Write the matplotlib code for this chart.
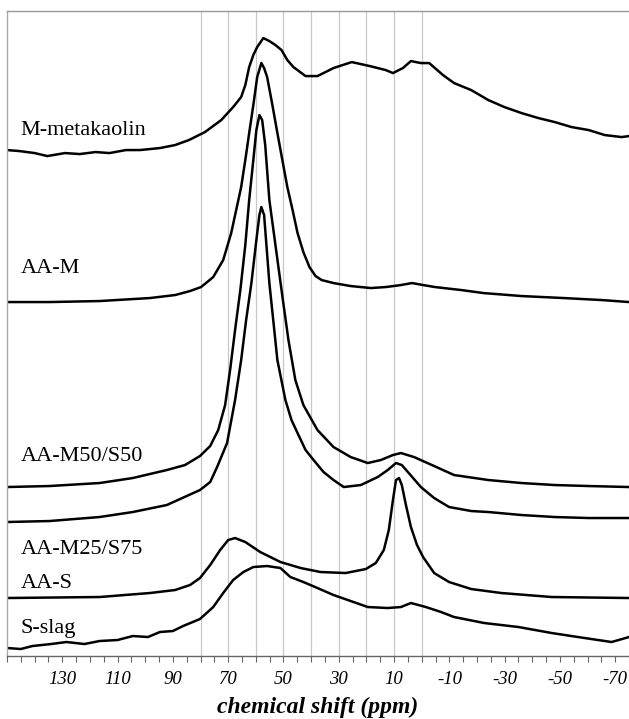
import numpy as np
import matplotlib.pyplot as plt

plt.rcParams['axes.unicode_minus'] = False

# 27Al MAS NMR spectra, stacked (intensity in arbitrary units incl. offset)
metakaolin_ppm = [150, 145.5, 140.0, 135.4, 129.0, 123.7, 118.0, 112.9, 107.0, 101.9, 94.7, 89.2,
                  84.2, 78.4, 72.5, 68.2, 65.3, 63.8, 62.4, 60.9, 59.5, 57.3, 55.1, 52.9, 50.7,
                  48.6, 46.4, 42.0, 37.7, 31.9, 25.3, 18.8, 13.0, 10.4, 6.8, 3.9, 0.3, -2.7,
                  -7.7, -11.7, -17.9, -24.1, -29.9, -36.1, -42.2, -48.1, -54.2, -60.4, -66.2,
                  -72.3, -75]
metakaolin_int = [506, 505, 503, 500, 503, 502, 504, 503, 506, 506, 508, 511,
                  516, 524, 536, 549, 559, 571, 589, 601, 609, 618, 615, 611, 606,
                  596, 589, 580, 580, 588, 594, 590, 586, 583, 588, 595, 593, 593,
                  581, 573, 566, 556, 549, 543, 538, 534, 529, 526, 521,
                  519, 520]

aam_ppm = [150, 134.6, 116.5, 98.3, 89.2, 83.8, 79.8, 75.4, 71.8, 68.9, 67.1, 65.3, 63.8,
           62.4, 60.9, 59.5, 58.0, 57.0, 55.9, 54.0, 52.2, 50.4, 48.6, 46.7, 44.9, 42.8,
           40.6, 38.4, 36.2, 31.9, 25.7, 18.4, 13.0, 7.5, 3.5, -0.5, -4.8, -14.3, -22.3,
           -36.1, -51.3, -65.1, -75]
aam_int = [354, 354, 355, 358, 361, 365, 369, 379, 396, 423, 446, 469, 496,
           523, 551, 579, 593, 588, 579, 551, 523, 496, 469, 446, 423, 404,
           389, 380, 376, 373, 370, 368, 369, 371, 373, 371, 369, 366, 363,
           360, 358, 356, 354]

m50_ppm = [150, 134.6, 116.5, 104.5, 92.2, 85.6, 80.2, 76.5, 73.6, 71.1, 69.3, 67.5, 65.6,
           63.8, 62.4, 60.9, 59.8, 58.7, 57.7, 56.6, 55.1, 52.9, 50.7, 48.2, 45.7, 42.8,
           37.7, 31.9, 25.7, 19.5, 14.8, 10.4, 7.5, 2.8, -4.5, -11.7, -24.1, -36.1, -48.1,
           -60.4, -75]
m50_int = [169, 170, 173, 178, 186, 191, 200, 210, 226, 251, 286, 326, 366,
           411, 456, 496, 526, 541, 536, 511, 456, 411, 366, 316, 276, 251,
           226, 209, 199, 193, 196, 201, 203, 199, 190, 181, 176, 173, 171,
           170, 169]

m25_ppm = [150, 134.6, 116.5, 104.5, 92.2, 80.2, 76.5, 74.0, 72.2, 70.4, 67.5, 65.3, 63.5,
           61.6, 59.8, 58.7, 58.0, 57.0, 55.1, 53.7, 52.2, 49.3, 47.1, 44.9, 42.0, 39.1,
           35.5, 31.9, 28.2, 22.0, 15.9, 12.3, 9.3, 7.2, 5.0, 0.3, -4.5, -9.9, -17.9,
           -24.1, -36.1, -48.1, -60.4, -75]
m25_int = [134, 135, 139, 144, 151, 166, 174, 189, 201, 213, 256, 296, 336,
           373, 416, 441, 449, 441, 373, 336, 296, 256, 236, 223, 206, 196,
           184, 176, 169, 171, 179, 186, 193, 191, 184, 169, 158, 149, 145,
           144, 141, 139, 138, 138]

aas_ppm = [150, 116.5, 98.3, 89.2, 83.8, 80.2, 76.5, 72.9, 70.0, 67.5, 63.8, 58.4, 51.1,
           43.8, 36.6, 27.5, 20.2, 16.6, 13.7, 11.9, 10.4, 9.3, 8.2, 7.2, 5.7, 3.9, 1.7,
           -0.5, -4.5, -9.9, -17.9, -28.8, -47.0, -75]
aas_int = [58, 59, 63, 66, 71, 78, 91, 106, 116, 118, 114, 104, 94,
           88, 84, 83, 87, 93, 106, 126, 156, 176, 178, 171, 151, 129, 111,
           99, 83, 74, 67, 63, 59, 58]

slag_ppm = [150, 145.0, 140.8, 134.0, 128.5, 122.0, 116.5, 110.0, 104.5, 99.0, 94.7, 90.0,
            86.3, 80.2, 75.4, 71.8, 68.2, 64.5, 60.9, 55.9, 51.1, 47.5, 42.8, 37.7, 31.9,
            25.7, 19.5, 12.3, 7.5, 3.9, -1.5, -7.0, -11.7, -22.6, -35.0, -47.0, -58.9,
            -68.7, -75]
slag_int = [8, 7, 10, 12, 14, 12, 15, 16, 20, 19, 24, 25,
            30, 37, 49, 63, 76, 84, 89, 90, 88, 79, 74, 68, 61,
            55, 49, 48, 49, 53, 49, 44, 39, 33, 29, 23, 18,
            14, 19]

labels = ['M-metakaolin', 'AA-M', 'AA-M50/S50', 'AA-M25/S75', 'AA-S', 'S-slag']
label_y = [521, 383, 195, 102, 68, 23]

grid_ppm = [80, 70, 60, 50, 40, 30, 20, 10, 0]
tick_ppm = list(range(130, -71, -20))

fig = plt.figure(figsize=(6.29, 7.19), dpi=100)
ax = fig.add_axes([0.0111, 0.0876, 0.989, 0.897])

for g in grid_ppm:
    ax.axvline(g, color='#c8c8c8', lw=0.9, zorder=0)

series = [(metakaolin_ppm, metakaolin_int), (aam_ppm, aam_int), (m50_ppm, m50_int),
          (m25_ppm, m25_int), (aas_ppm, aas_int), (slag_ppm, slag_int)]
for x, y in series:
    ax.plot(x, y, color='black', lw=1.8, solid_joinstyle='round')

for name, yy in zip(labels, label_y):
    ax.text(145, yy, name, fontsize=16, family='Liberation Serif', va='baseline', ha='left')

ax.set_xlim(150, -75)
ax.set_ylim(0, 645)
ax.set_yticks([])
ax.set_xticks(tick_ppm)
ax.set_xticks(np.arange(150, -76, -5), minor=True)
ax.tick_params(axis='x', which='both', direction='out', length=4, width=0.8,
               color='#666666', pad=7)
for lab in ax.get_xticklabels():
    lab.set_family('Liberation Serif')
    lab.set_style('italic')
    lab.set_fontsize(13.5)

ax.spines['right'].set_visible(False)
ax.spines['top'].set_color('#999999')
ax.spines['left'].set_color('#aaaaaa')
ax.spines['bottom'].set_color('#666666')
for s in ['top', 'left', 'bottom']:
    ax.spines[s].set_linewidth(1.0)

ax.set_xlabel('chemical shift (ppm)', fontsize=17, family='Liberation Serif',
              style='italic', weight='bold', labelpad=6)

fig.savefig('out.png', dpi=100)
